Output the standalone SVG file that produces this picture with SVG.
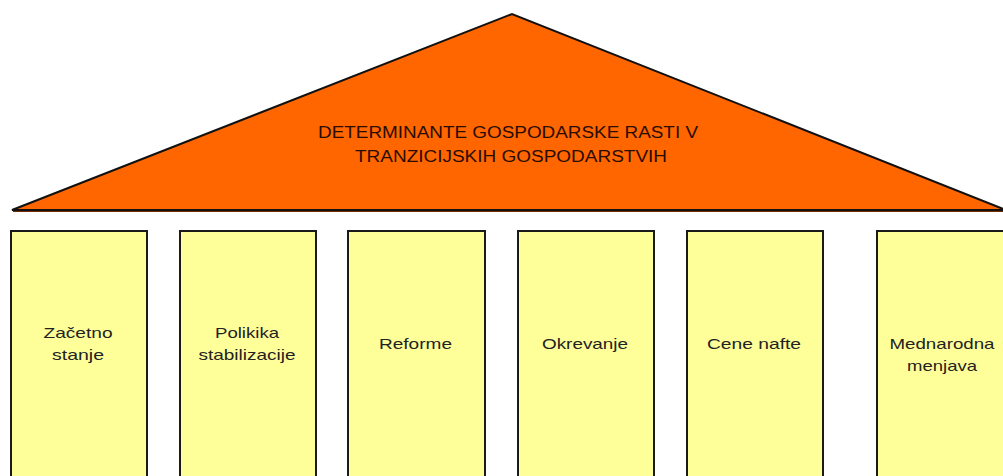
<svg xmlns="http://www.w3.org/2000/svg" width="1003" height="476" viewBox="0 0 1003 476">
<style>
.pillar{fill:#FFFF99;stroke:#1a1a1a;stroke-width:2}
.roof{fill:#FF6600;stroke:#111;stroke-width:2;stroke-linejoin:miter}
.t{font-family:"Liberation Sans",Arial,sans-serif;font-size:15px;fill:#222;text-anchor:middle}
.tt{font-family:"Liberation Sans",Arial,sans-serif;font-size:16px;fill:#2a0c00;text-anchor:middle}
</style>
<rect width="1003" height="476" fill="#ffffff"/>
<g id="roof">
<polygon class="roof" points="12,210 512,14 1006,210"/>
<line x1="13" y1="211.5" x2="1003" y2="211.5" stroke="#7a2a00" stroke-width="1"/>
<text class="tt" x="508" y="138" textLength="380" lengthAdjust="spacingAndGlyphs">DETERMINANTE GOSPODARSKE RASTI V</text>
<text class="tt" x="511" y="162" textLength="312" lengthAdjust="spacingAndGlyphs">TRANZICIJSKIH GOSPODARSTVIH</text>
</g>
<g id="p1">
<rect class="pillar" x="11" y="231" width="136" height="260"/>
<text class="t" x="78" y="338" textLength="69" lengthAdjust="spacingAndGlyphs">Začetno</text>
<text class="t" x="78" y="360" textLength="52" lengthAdjust="spacingAndGlyphs">stanje</text>
</g>
<g id="p2">
<rect class="pillar" x="180" y="231" width="136" height="260"/>
<text class="t" x="247" y="338" textLength="64" lengthAdjust="spacingAndGlyphs">Polikika</text>
<text class="t" x="247" y="360" textLength="97" lengthAdjust="spacingAndGlyphs">stabilizacije</text>
</g>
<g id="p3">
<rect class="pillar" x="348" y="231" width="137" height="260"/>
<text class="t" x="415.5" y="349" textLength="73" lengthAdjust="spacingAndGlyphs">Reforme</text>
</g>
<g id="p4">
<rect class="pillar" x="518" y="231" width="136" height="260"/>
<text class="t" x="585" y="349" textLength="86" lengthAdjust="spacingAndGlyphs">Okrevanje</text>
</g>
<g id="p5">
<rect class="pillar" x="687" y="231" width="136" height="260"/>
<text class="t" x="754" y="349" textLength="94" lengthAdjust="spacingAndGlyphs">Cene nafte</text>
</g>
<g id="p6">
<rect class="pillar" x="877" y="231" width="136" height="260"/>
<text class="t" x="942" y="349" textLength="105" lengthAdjust="spacingAndGlyphs">Mednarodna</text>
<text class="t" x="942" y="371" textLength="70" lengthAdjust="spacingAndGlyphs">menjava</text>
</g>
<g id="connectors"></g>
</svg>
